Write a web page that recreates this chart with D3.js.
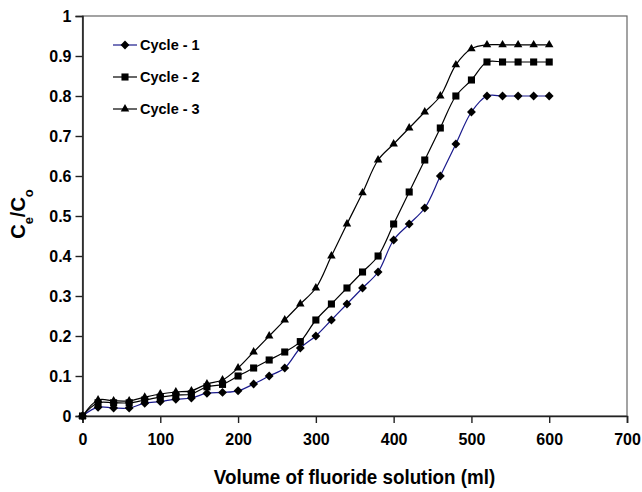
<!DOCTYPE html>
<html>
<head>
<meta charset="utf-8">
<script src="https://cdn.jsdelivr.net/npm/d3@7"></script>
<style>
  body { margin: 0; background: #fff; }
  text { font-family: "Liberation Sans", Arial, sans-serif; font-weight: bold; fill: #000; }
</style>
</head>
<body>
<script>
var width = 642, height = 492;
var margin = {left: 82.5, right: 15, top: 16, bottom: 76};

// volume of solution (ml)
var volume = [0, 20, 40, 60, 80, 100, 120, 140, 160, 180, 200, 220, 240, 260, 280, 300,
              320, 340, 360, 380, 400, 420, 440, 460, 480, 500, 520, 540, 560, 580, 600];
var cycle1 = [0, 0.022, 0.02, 0.02, 0.032, 0.036, 0.042, 0.045, 0.057, 0.059, 0.063, 0.08, 0.10, 0.12, 0.17, 0.20,
              0.24, 0.28, 0.32, 0.36, 0.44, 0.48, 0.52, 0.60, 0.68, 0.76, 0.80, 0.80, 0.80, 0.80, 0.80];
var cycle2 = [0, 0.033, 0.033, 0.033, 0.04, 0.047, 0.052, 0.055, 0.073, 0.079, 0.10, 0.12, 0.14, 0.16, 0.186, 0.24,
              0.28, 0.32, 0.36, 0.40, 0.48, 0.56, 0.64, 0.72, 0.80, 0.84, 0.885, 0.885, 0.885, 0.885, 0.885];
var cycle3 = [0, 0.04, 0.038, 0.038, 0.047, 0.055, 0.06, 0.063, 0.08, 0.09, 0.12, 0.16, 0.20, 0.24, 0.28, 0.32,
              0.40, 0.48, 0.558, 0.64, 0.68, 0.72, 0.76, 0.80, 0.878, 0.918, 0.928, 0.928, 0.928, 0.928, 0.928];
var seriesNames = ["Cycle - 1", "Cycle - 2", "Cycle - 3"];
var xTicks = [0, 100, 200, 300, 400, 500, 600, 700];
var yTicks = [0, 0.1, 0.2, 0.3, 0.4, 0.5, 0.6, 0.7, 0.8, 0.9, 1];

var series = [
  {name: seriesNames[0], values: cycle1, color: "#1a1a8c", symbol: d3.symbolDiamond2, size: 50},
  {name: seriesNames[1], values: cycle2, color: "#000", symbol: d3.symbolSquare2, size: 64},
  {name: seriesNames[2], values: cycle3, color: "#000", symbol: d3.symbolTriangle2, size: 52}
];

var svg = d3.select("body").append("svg")
    .attr("width", width)
    .attr("height", height);

var x = d3.scaleLinear().domain([0, 700]).range([margin.left, width - margin.right]);
var y = d3.scaleLinear().domain([0, 1]).range([height - margin.bottom, margin.top]);

// plot frame (top and right)
svg.append("rect")
    .attr("x", x(0)).attr("y", y(1))
    .attr("width", x(700) - x(0)).attr("height", y(0) - y(1))
    .attr("fill", "none").attr("stroke", "#666").attr("stroke-width", 1.2);

var xAxis = svg.append("g")
    .attr("transform", "translate(0," + y(0) + ")")
    .call(d3.axisBottom(x).tickValues(xTicks).tickSize(7).tickPadding(11).tickFormat(d3.format("d")));
var yAxis = svg.append("g")
    .attr("transform", "translate(" + x(0) + ",0)")
    .call(d3.axisLeft(y).tickValues(yTicks).tickSize(7).tickPadding(4).tickFormat(function(d){ return d3.format("")(+d.toFixed(1)); }));

[xAxis, yAxis].forEach(function(g){
  g.select(".domain").attr("stroke", "#222").attr("stroke-width", 1.6);
  g.selectAll(".tick line").attr("stroke", "#222").attr("stroke-width", 1.4);
  g.selectAll(".tick text").style("font-size", "16px").style("font-family", "'Liberation Sans', Arial, sans-serif")
   .style("font-weight", "bold").attr("fill", "#000");
});
yAxis.selectAll(".tick text").attr("dy", "0.36em");

var line = d3.line()
    .x(function(d, i){ return x(volume[i]); })
    .y(function(d){ return y(d); })
    .curve(d3.curveCatmullRom.alpha(0.5));

series.forEach(function(s){
  svg.append("path")
      .datum(s.values)
      .attr("d", line)
      .attr("fill", "none")
      .attr("stroke", s.color)
      .attr("stroke-width", 1.2);
  svg.append("g").selectAll("path")
      .data(s.values)
      .join("path")
      .attr("transform", function(d, i){ return "translate(" + x(volume[i]) + "," + y(d) + ")"; })
      .attr("d", d3.symbol().type(s.symbol).size(s.size))
      .attr("fill", "#000");
});

// legend
var legend = svg.append("g");
series.forEach(function(s, i){
  var ly = 45 + i * 32;
  legend.append("line").attr("x1", 113).attr("x2", 137).attr("y1", ly).attr("y2", ly)
      .attr("stroke", s.color).attr("stroke-width", 1.2);
  legend.append("path").attr("transform", "translate(125," + ly + ")")
      .attr("d", d3.symbol().type(s.symbol).size(s.size)).attr("fill", "#000");
  legend.append("text").attr("x", 140).attr("y", ly).attr("dy", "0.36em")
      .style("font-size", "14.5px").text(s.name);
});

// axis titles
svg.append("text")
    .attr("transform", "translate(354.5,484) scale(0.94,1)")
    .attr("text-anchor", "middle")
    .style("font-size", "20px")
    .text("Volume of fluoride solution (ml)");

var yl = svg.append("text")
    .attr("transform", "translate(25,214) rotate(-90)")
    .attr("text-anchor", "middle")
    .style("font-size", "20px");
yl.append("tspan").text("C");
yl.append("tspan").attr("baseline-shift", "sub").style("font-size", "13px").text("e");
yl.append("tspan").text("/C");
yl.append("tspan").attr("baseline-shift", "sub").style("font-size", "13px").text("o");
</script>
</body>
</html>
